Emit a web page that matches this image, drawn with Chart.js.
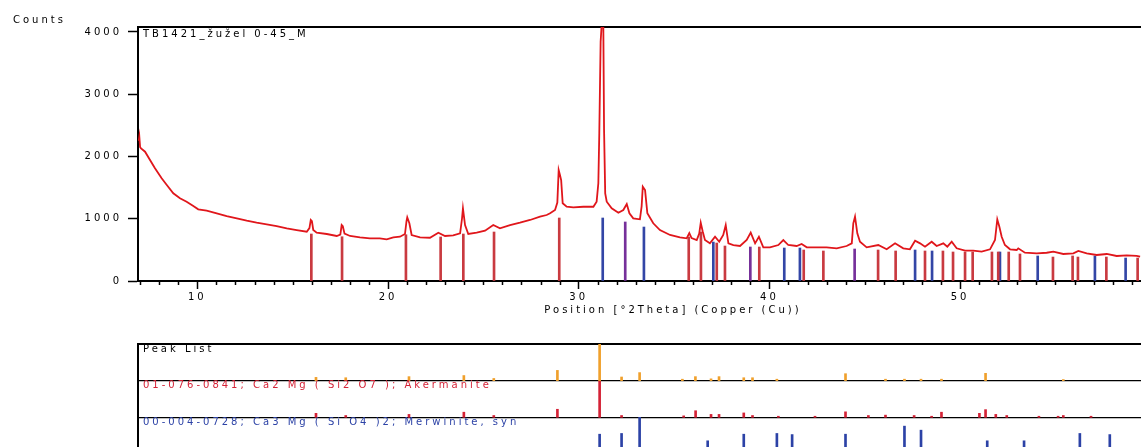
<!DOCTYPE html>
<html>
<head>
<meta charset="utf-8">
<script src="https://cdn.jsdelivr.net/npm/chart.js@4.4.0/dist/chart.umd.min.js"></script>
<style>
  html, body { margin: 0; padding: 0; width: 1141px; height: 447px; overflow: hidden; background: #fff; }
  canvas { position: absolute; left: 0; }
  #scan { top: 0; }
  #refs { top: 330px; }
</style>
</head>
<body>
<canvas id="scan" width="1208" height="325"></canvas>
<canvas id="refs" width="1208" height="130"></canvas>
<script>
const scan = [
  [6.93, 2250], [6.96, 2317], [7.00, 2150], [7.05, 2131], [7.26, 2077], [7.52, 1943], [7.78, 1810],
  [8.13, 1649], [8.40, 1542], [8.74, 1408], [9.09, 1328], [9.44, 1274], [9.79, 1205], [10.05, 1151],
  [10.49, 1129], [11.02, 1087], [11.54, 1044], [12.07, 1007], [12.59, 968], [13.11, 936], [13.64, 911],
  [14.16, 883], [14.69, 846], [15.21, 819], [15.74, 792], [15.88, 850], [15.95, 980], [16.01, 960],
  [16.08, 820], [16.26, 776], [16.79, 755], [17.31, 723], [17.50, 745], [17.57, 899], [17.63, 880],
  [17.72, 760], [18.01, 723], [18.53, 702], [19.05, 686], [19.57, 686], [19.93, 670], [20.28, 702],
  [20.63, 711], [20.89, 755], [20.97, 960], [21.01, 1023], [21.12, 927], [21.24, 739], [21.68, 702],
  [22.20, 695], [22.64, 776], [22.99, 723], [23.42, 734], [23.78, 766], [23.88, 1000], [23.93, 1168],
  [24.04, 899], [24.21, 755], [24.65, 776], [25.09, 808], [25.52, 899], [25.87, 846], [26.40, 899],
  [26.92, 936], [27.45, 980], [27.97, 1033], [28.32, 1060], [28.50, 1087], [28.76, 1140], [28.88, 1260],
  [28.95, 1783], [29.02, 1700], [29.08, 1622], [29.16, 1248], [29.37, 1193], [29.72, 1184], [30.24, 1193],
  [30.77, 1193], [30.94, 1274], [31.03, 1569], [31.08, 2372], [31.15, 3843], [31.21, 4150], [31.29, 4150],
  [31.33, 2425], [31.39, 1408], [31.47, 1274], [31.73, 1168], [32.08, 1097], [32.34, 1140], [32.52, 1237],
  [32.66, 1087], [32.86, 1007], [33.21, 991], [33.30, 1200], [33.36, 1514], [33.48, 1461], [33.60, 1087],
  [33.91, 927], [34.26, 819], [34.79, 739], [35.31, 702], [35.66, 686], [35.80, 770], [35.92, 690],
  [36.19, 658], [36.32, 760], [36.40, 936], [36.50, 800], [36.62, 658], [36.88, 605], [37.15, 711],
  [37.37, 631], [37.58, 739], [37.71, 899], [37.85, 605], [38.11, 578], [38.46, 562], [38.81, 658],
  [39.02, 776], [39.25, 605], [39.45, 711], [39.68, 541], [40.03, 541], [40.47, 578], [40.73, 658],
  [40.99, 578], [41.43, 562], [41.69, 594], [41.96, 541], [42.48, 541], [43.00, 541], [43.53, 525],
  [44.05, 562], [44.32, 605], [44.40, 927], [44.49, 1033], [44.61, 766], [44.75, 631], [45.10, 541],
  [45.71, 578], [46.15, 509], [46.59, 605], [47.02, 525], [47.37, 509], [47.64, 647], [47.90, 605],
  [48.16, 551], [48.51, 631], [48.77, 562], [49.12, 605], [49.33, 551], [49.56, 631], [49.82, 525],
  [50.26, 487], [50.69, 487], [51.13, 471], [51.57, 509], [51.83, 658], [51.95, 991], [52.06, 872],
  [52.18, 711], [52.35, 578], [52.62, 509], [52.97, 498], [53.05, 525], [53.40, 454], [54.02, 445],
  [54.54, 454], [54.89, 471], [55.41, 434], [55.94, 445], [56.20, 482], [56.64, 445], [57.16, 418],
  [57.69, 434], [58.21, 402], [58.74, 413], [59.26, 402], [59.44, 390]
];

// reference sticks in the scan plot, [2theta, top in counts]
const akermaniteLines = [
  [15.98, 755], [17.59, 711], [20.94, 743], [22.76, 707], [23.95, 755], [25.56, 787], [28.98, 1012],
  [35.77, 707], [36.41, 787], [37.24, 610], [37.67, 562], [39.47, 546], [41.80, 498], [42.83, 482],
  [45.70, 498], [46.62, 482], [48.16, 482], [49.10, 482], [49.63, 466], [50.26, 466], [50.66, 466],
  [51.67, 466], [52.00, 466], [52.55, 466], [53.14, 434], [54.87, 385], [55.90, 402], [56.18, 385],
  [57.67, 385], [59.31, 369]
];
const merwiniteLines = [
  [31.26, 1012], [33.42, 867], [37.06, 626], [40.78, 530], [41.60, 530], [47.64, 498], [48.53, 482],
  [52.09, 466], [54.07, 402], [57.07, 402], [58.68, 369]
];
const sharedLines = [[32.44, 948], [39.00, 546], [44.47, 514]];

const countTicks = [0, 1000, 2000, 3000, 4000];
const thetaTicks = [10, 20, 30, 40, 50];

// lower panel, relative intensity 0-100 per strip
const peakList = [
  [16.0, 9], [17.6, 8], [21.0, 11], [23.95, 14], [25.56, 6], [28.98, 28], [31.25, 100], [32.43, 10],
  [33.4, 22], [35.7, 4], [36.4, 11], [37.24, 5], [37.67, 11], [39.0, 8], [39.47, 8], [40.78, 4],
  [44.47, 19], [46.62, 4], [47.64, 4], [48.53, 4], [49.63, 4], [52.0, 20], [56.18, 3]
];
const akermaniteRel = [
  [16.0, 11], [17.6, 5], [21.0, 8], [23.95, 14], [25.56, 5], [28.98, 22], [31.25, 100], [32.43, 5],
  [35.77, 4], [36.41, 18], [37.24, 8], [37.67, 8], [39.0, 12], [39.47, 5], [40.86, 3], [42.83, 3],
  [44.47, 15], [45.7, 5], [46.62, 6], [48.16, 5], [49.1, 3], [49.63, 14], [51.67, 11], [52.0, 21],
  [52.55, 8], [53.14, 5], [54.87, 3], [55.9, 3], [56.18, 5], [57.67, 3]
];
const merwiniteRel = [
  [31.25, 54], [32.43, 56], [33.4, 100], [37.06, 36], [39.0, 54], [40.78, 56], [41.6, 53], [44.47, 54],
  [47.64, 76], [48.53, 65], [52.09, 36], [54.07, 36], [57.07, 56], [58.68, 53]
];

const stripNames = [
  'Peak List',
  '01-076-0841; Ca2 Mg ( Si2 O7 ); Akermanite',
  '00-004-0728; Ca3 Mg ( Si O4 )2; Merwinite, syn'
];
const stripText = ['#000', '#d42236', '#2c42a6'];

const FONT = "'DejaVu Sans', sans-serif";
const SIZE = 10;
const toXY = (pts) => pts.map(([x, y]) => ({x: x, y: y}));

// the old software spaces its letters out
const spacing = {
  id: 'spacing',
  beforeUpdate(chart) { chart.ctx.letterSpacing = '3px'; },
  beforeDraw(chart) { chart.ctx.letterSpacing = '3px'; }
};

const scanDecor = {
  id: 'scanDecor',
  afterDraw(chart) {
    const {ctx, chartArea, scales: {x}} = chart;
    ctx.save();
    ctx.strokeStyle = '#000';
    ctx.lineWidth = 1.5;
    for (let d = 7; d <= 63; d++) {
      if (d % 10 === 0) continue;
      const px = Math.round(x.getPixelForValue(d)) + 0.5;
      ctx.beginPath();
      ctx.moveTo(px, chartArea.bottom);
      ctx.lineTo(px, chartArea.bottom + 4);
      ctx.stroke();
    }
    ctx.fillStyle = '#000';
    ctx.font = SIZE + 'px ' + FONT;
    ctx.textBaseline = 'middle';
    ctx.fillText('Counts', 13, 20);
    ctx.fillText('TB1421_žužel 0-45_M', chartArea.left + 5, chartArea.top + 7);
    ctx.restore();
  }
};

const stripLabels = {
  id: 'stripLabels',
  afterDatasetsDraw(chart) {
    const {ctx, chartArea, scales: {y}} = chart;
    ctx.save();
    ctx.font = SIZE + 'px ' + FONT;
    ctx.textBaseline = 'middle';
    stripNames.forEach((name, i) => {
      ctx.fillStyle = stripText[i];
      ctx.fillText(name, chartArea.left + 5, y.getPixelForValue(300 - 100 * i) + 5);
    });
    ctx.restore();
  }
};

function sticks(pts, color) {
  return { type: 'bar', data: toXY(pts), backgroundColor: color, barThickness: 2, grouped: false, order: 1 };
}

function strip(pts, base, color) {
  return {
    data: pts.map(([x, h]) => ({x: x, y: [base, base + h]})),
    backgroundColor: color, barThickness: 2, grouped: false
  };
}

const tickFont = {family: FONT, size: SIZE};

new Chart(document.getElementById('scan'), {
  type: 'line',
  data: {
    datasets: [
      sticks(akermaniteLines, '#c93a40'),
      sticks(merwiniteLines, '#3346a6'),
      sticks(sharedLines, '#76309a'),
      {
        type: 'line',
        data: toXY(scan),
        borderColor: '#e0161b',
        borderWidth: 1.8,
        pointRadius: 0,
        tension: 0,
        order: 0
      }
    ]
  },
  options: {
    responsive: false,
    animation: false,
    devicePixelRatio: 1,
    layout: { padding: { top: 27, left: 0, right: 0, bottom: 0 } },
    plugins: { legend: { display: false }, tooltip: { enabled: false } },
    scales: {
      x: {
        type: 'linear', position: 'bottom', min: 6.89, max: 63.0, offset: false,
        afterFit(s) { s.height = 44; },
        afterBuildTicks(s) { s.ticks = thetaTicks.map((v) => ({value: v})); },
        ticks: {
          maxRotation: 0, autoSkip: false, padding: 2,
          color: '#000', font: tickFont,
          callback: (v) => String(v)
        },
        grid: { offset: false, drawOnChartArea: false, tickLength: 8, tickWidth: 1.5, tickColor: '#000' },
        border: { color: '#000', width: 2 },
        title: {
          display: true, text: 'Position [°2Theta] (Copper (Cu))', color: '#000', font: tickFont,
          padding: { top: 0, bottom: 9 }
        }
      },
      xTop: {
        type: 'linear', position: 'top', min: 6.89, max: 63.0, offset: false,
        afterFit(s) { s.height = 0; },
        ticks: { display: false },
        grid: { display: false, drawTicks: false },
        border: { color: '#000', width: 2 }
      },
      y: {
        min: 0, max: 4080,
        afterFit(s) { s.width = 138; },
        afterBuildTicks(s) { s.ticks = countTicks.map((v) => ({value: v})); },
        ticks: { padding: 6, color: '#000', font: tickFont, callback: (v) => String(v) },
        grid: { drawOnChartArea: false, tickLength: 10, tickWidth: 1.5, tickColor: '#000' },
        border: { color: '#000', width: 2 }
      }
    }
  },
  plugins: [spacing, scanDecor]
});

new Chart(document.getElementById('refs'), {
  type: 'bar',
  data: {
    datasets: [
      strip(peakList, 200, '#f0a02c'),
      strip(akermaniteRel, 100, '#d42236'),
      strip(merwiniteRel, 0, '#2c42a6')
    ]
  },
  options: {
    responsive: false,
    animation: false,
    devicePixelRatio: 1,
    layout: { padding: { top: 14, left: 0, right: 0, bottom: 6 } },
    plugins: { legend: { display: false }, tooltip: { enabled: false } },
    scales: {
      x: { type: 'linear', min: 6.43, max: 63.96, offset: false, display: false },
      y: {
        min: 0, max: 300,
        afterFit(s) { s.width = 138; },
        ticks: { display: false, stepSize: 100 },
        grid: {
          drawTicks: false,
          color: (c) => c.tick.value === 0 ? 'rgba(0,0,0,0)' : '#000',
          lineWidth: (c) => c.tick.value === 300 ? 2 : 1.2
        },
        border: { color: '#000', width: 2 }
      }
    }
  },
  plugins: [spacing, stripLabels]
});
</script>
</body>
</html>
